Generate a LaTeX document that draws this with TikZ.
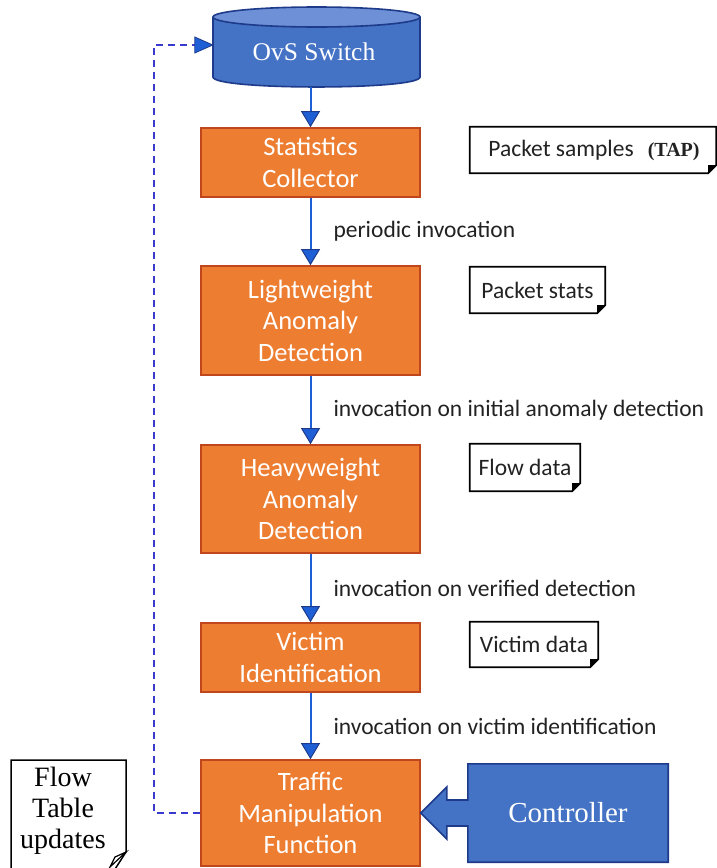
\documentclass[tikz,border=0pt]{standalone}
\usepackage{fontspec}
\usetikzlibrary{arrows.meta,calc}
\newfontfamily\carlito{Carlito}
\newfontfamily\tnr{Liberation Serif}
\definecolor{orangefill}{HTML}{ED7D31}
\definecolor{orangeedge}{HTML}{C0461E}
\definecolor{bluefill}{HTML}{4472C4}
\definecolor{bluetop}{HTML}{6E90D6}
\definecolor{blueedge}{HTML}{1E3A8A}
\definecolor{arrowblue}{HTML}{1F5FD6}
\definecolor{dashblue}{HTML}{3A3ACF}
\definecolor{labtext}{HTML}{222222}
\newcommand{\notefold}[1]{%
  \draw[notedraw] (#1.north west) -- (#1.north east) -- ([yshift=8pt]#1.south east) -- ([xshift=-8pt]#1.south east) -- (#1.south west) -- cycle;
  \fill[black] ([yshift=8pt]#1.south east) -- ([xshift=-8pt]#1.south east) -- ([xshift=-8pt,yshift=8pt]#1.south east) -- cycle;}
\tikzset{
  proc/.style={rectangle, draw=orangeedge, fill=orangefill, line width=1.6pt,
    minimum width=219pt, text width=215pt, align=center, text=white,
    font=\carlito\fontsize{26.5}{31.5}\selectfont, inner sep=0pt},
  notebox/.style={rectangle, inner sep=0pt, font=\carlito\fontsize{23.5}{27}\selectfont, text=labtext},
  notedraw/.style={draw=black, line width=1.8pt, fill=white},
  flow/.style={draw=arrowblue, line width=2pt, -{Triangle[width=19pt,length=16pt,color=blueedge,fill=arrowblue,line width=1pt]}},
  lab/.style={font=\carlito\fontsize{23.5}{27}\selectfont, text=labtext, inner sep=0pt},
  feedback/.style={draw=dashblue, line width=1.8pt, dash pattern=on 7pt off 5pt},
}
\begin{document}
\begin{tikzpicture}[x=1pt,y=-1pt]
\useasboundingbox (0,0) rectangle (717,868);
% OvS switch cylinder
\fill[bluefill] (213,17) rectangle (420,77);
\fill[bluefill] (213,77) .. controls (213,90.3) and (420,90.3) .. (420,77) -- cycle;
\draw[blueedge, line width=1.6pt] (213,17) -- (213,77) .. controls (213,90.3) and (420,90.3) .. (420,77) -- (420,17);
\filldraw[fill=bluetop, draw=blueedge, line width=1.6pt] (316.5,17) ellipse [x radius=103.5pt, y radius=10pt];
\node[rectangle, minimum width=207pt, minimum height=80pt, inner sep=0pt] (ovs) at (316.5,47) {};
\node[text=white, font=\tnr\fontsize{25.5}{30}\selectfont, inner sep=0pt] (ovstext) at (314,52) {OvS Switch};

% process boxes
\node[proc, minimum height=69pt] (stats) at (310.5,162.5) {Statistics\\Collector};
\node[proc, minimum height=109pt] (light) at (310.5,320.5) {Lightweight\\Anomaly\\Detection};
\node[proc, minimum height=108pt] (heavy) at (310.5,499) {Heavyweight\\Anomaly\\Detection};
\node[proc, minimum height=69pt] (victim) at (310.5,657.5) {Victim\\Identification};
\node[proc, minimum height=106pt] (traffic) at (310.5,813) {Traffic\\Manipulation\\Function};

% connectors
\draw[flow] (ovs.south -| stats.north) -- (stats.north);
\draw[flow] (stats) -- node[lab, right=22pt] {periodic invocation} (light);
\draw[flow] (light) -- node[lab, right=22pt] {invocation on initial anomaly detection} (heavy);
\draw[flow] (heavy) -- node[lab, right=22pt] {invocation on verified detection} (victim);
\draw[flow] (victim) -- node[lab, right=22pt] {invocation on victim identification} (traffic);

% feedback dashed
\coordinate (fb) at (154,45);
\draw[feedback] (traffic.west) -| (fb) -- ([xshift=-18pt]ovs.west |- fb);
\filldraw[fill=arrowblue, draw=blueedge, line width=0.8pt] (ovs.west |- fb) -- ++(-18pt,8pt) -- ++(0,-16pt) -- cycle;

% notes
\node[notebox, minimum width=246pt, minimum height=46pt] (samples) at (593,150) {};
\notefold{samples}
\node[notebox] (samplestext) at (594,150) {Packet samples\hspace{14pt}{\tnr\bfseries\fontsize{20}{22}\selectfont(TAP)}};
\node[notebox, minimum width=135pt, minimum height=46pt] (pstats) at (537.5,290) {};
\notefold{pstats}
\node[notebox] at (pstats) {Packet stats};
\node[notebox, minimum width=110pt, minimum height=47pt] (fdata) at (525,467.5) {};
\notefold{fdata}
\node[notebox] at (fdata) {Flow data};
\node[notebox, minimum width=128pt, minimum height=45pt] (vdata) at (534,644.5) {};
\notefold{vdata}
\node[notebox] at (vdata) {Victim data};

% flow table updates note
\draw[black, line width=1.5pt, fill=white] (11,880) -- (11,760) -- (126,760) -- (126,852) -- (108,880);
\draw[black, line width=1.2pt, fill=white] (126,852) -- (115,857) -- (110,867) -- cycle;
\node[font=\tnr\fontsize{28}{31}\selectfont, align=center, inner sep=0pt, text=black] (ftu) at (63,811) {Flow\\Table\\updates};

% controller
\node[text=white, font=\tnr\fontsize{29}{34}\selectfont, minimum width=200pt, minimum height=98pt, inner sep=0pt] (ctrl) at (568,813) {};
\filldraw[fill=bluefill, draw=blueedge, line width=1.6pt]
  (ctrl.north east) -- (ctrl.north west) -- ([yshift=13pt]ctrl.west) -- ([xshift=26pt,yshift=13pt]traffic.east)
  -- ([xshift=26pt,yshift=26pt]traffic.east) -- (traffic.east) -- ([xshift=26pt,yshift=-26pt]traffic.east)
  -- ([xshift=26pt,yshift=-13pt]traffic.east) -- ([yshift=-13pt]ctrl.west) -- (ctrl.south west) -- (ctrl.south east) -- cycle;
\node[text=white, font=\tnr\fontsize{29}{34}\selectfont, inner sep=0pt] at (ctrl) {Controller};
\end{tikzpicture}
\end{document}
